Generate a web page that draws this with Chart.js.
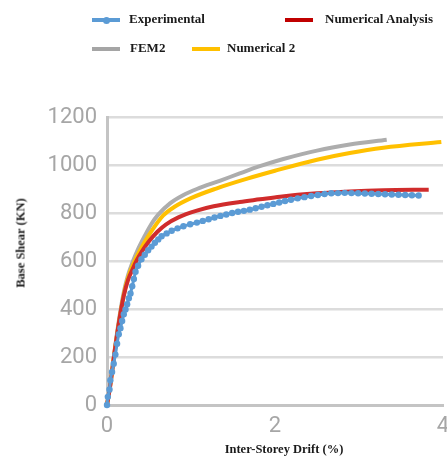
<!DOCTYPE html>
<html>
<head>
<meta charset="utf-8">
<script src="https://cdn.jsdelivr.net/npm/chart.js@4/dist/chart.umd.min.js"></script>
<style>
  html, body { margin: 0; padding: 0; background: #fff; overflow: hidden; }
  body { width: 447px; height: 461px; position: relative; }
  #wrap { position: absolute; left: 0; top: 0; width: 462px; height: 461px; }
  .lg { position: absolute; font-family: "Liberation Serif", "Times New Roman", serif; font-weight: bold; font-size: 13px; color: #1a1a1a; white-space: nowrap; }
  .sw { position: absolute; width: 28px; height: 4px; }
  .dot { position: absolute; width: 7px; height: 7px; border-radius: 50%; background: #5B9BD5; left: 10.5px; top: -1.5px; }
  .title { position: absolute; font-family: "Liberation Serif", "Times New Roman", serif; font-weight: bold; font-size: 12.5px; color: #1a1a1a; white-space: nowrap; }
</style>
</head>
<body>
<div id="wrap"><canvas id="chart"></canvas></div>

<div class="sw" style="left:92px;top:18px;background:#5B9BD5"><div class="dot"></div></div>
<div class="lg" style="left:129px;top:11px">Experimental</div>
<div class="sw" style="left:285px;top:18px;background:#C00000"></div>
<div class="lg" style="left:325px;top:11px">Numerical Analysis</div>
<div class="sw" style="left:92px;top:47px;background:#A5A5A5"></div>
<div class="lg" style="left:130px;top:40px">FEM2</div>
<div class="sw" style="left:192px;top:47px;background:#FFC000"></div>
<div class="lg" style="left:227px;top:40px">Numerical 2</div>

<div class="title" style="left:21px;top:243px;transform:translate(-50%,-50%) rotate(-90deg)">Base Shear (KN)</div>
<div class="title" style="left:284px;top:449px;transform:translate(-50%,-50%)">Inter-Storey Drift (%)</div>

<script>
// Experimental
const expDrift = [0, 0.01, 0.03, 0.04, 0.06, 0.08, 0.10, 0.12, 0.14, 0.16, 0.18, 0.20, 0.22, 0.24, 0.26, 0.28, 0.30, 0.32, 0.34, 0.37,
  0.41, 0.45, 0.49, 0.53, 0.57, 0.61, 0.65, 0.71, 0.77, 0.84, 0.91, 0.99, 1.07, 1.14, 1.21, 1.28, 1.35, 1.42, 1.49, 1.56,
  1.63, 1.70, 1.77, 1.84, 1.91, 1.98, 2.05, 2.12, 2.19, 2.27, 2.35, 2.43, 2.51, 2.59, 2.67, 2.75, 2.83, 2.91, 2.99, 3.07,
  3.15, 3.23, 3.31, 3.39, 3.47, 3.55, 3.63, 3.71];
const expShear = [0, 34, 65, 103, 138, 172, 210, 255, 295, 320, 350, 378, 398, 420, 445, 465, 495, 525, 555, 580,
  607, 626, 645, 660, 676, 690, 703, 715, 726, 736, 745, 753, 760, 767, 774, 781, 788, 794, 800, 805,
  809, 814, 820, 826, 832, 838, 844, 850, 855, 861, 866, 871, 875, 879, 882, 883, 884, 883, 882, 881,
  880, 879, 878, 877, 876, 875, 874, 873];

// Numerical Analysis
const numDrift = [0, 0.04, 0.09, 0.145, 0.2, 0.25, 0.31, 0.35, 0.42, 0.5, 0.6, 0.7, 0.85, 1.07, 1.27, 1.58, 1.82, 2.06, 2.5, 2.89, 3.29, 3.83];
const numShear = [0, 85, 220, 350, 455, 520, 570, 600, 642, 682, 722, 752, 782, 810, 828, 846, 857, 868, 882, 890, 895, 897];

// FEM2
const femDrift = [0, 0.04, 0.09, 0.145, 0.2, 0.25, 0.31, 0.37, 0.45, 0.53, 0.61, 0.75, 0.9, 1.07, 1.35, 1.58, 1.82, 2.1, 2.5, 2.89, 3.33];
const femShear = [0, 90, 225, 360, 470, 540, 600, 650, 705, 755, 793, 840, 873, 900, 935, 965, 995, 1025, 1060, 1085, 1105];

// Numerical 2
const num2Drift = [0, 0.036, 0.087, 0.143, 0.2, 0.25, 0.33, 0.45, 0.55, 0.67, 0.8, 1.0, 1.3, 1.66, 2.0, 2.5, 2.89, 3.29, 3.98];
const num2Shear = [0, 76, 212, 345, 460, 530, 600, 680, 735, 790, 825, 862, 902, 942, 976, 1022, 1050, 1072, 1096];

const xTicks = [0, 2, 4];
const yTicks = [0, 200, 400, 600, 800, 1000, 1200];

const pts = (xs, ys) => xs.map((x, i) => ({ x: x, y: ys[i] }));

new Chart(document.getElementById('chart'), {
  type: 'line',
  data: {
    datasets: [
      {
        label: 'Experimental',
        data: pts(expDrift, expShear),
        borderColor: '#5B9BD5',
        backgroundColor: '#5B9BD5',
        borderWidth: 3,
        pointRadius: 3.2,
        pointBorderWidth: 0,
        pointBackgroundColor: '#5B9BD5',
        cubicInterpolationMode: 'monotone',
        clip: 8,
        order: 0
      },
      {
        label: 'Numerical Analysis',
        data: pts(numDrift, numShear),
        borderColor: '#D02C2C',
        borderWidth: 4,
        pointRadius: 0,
        cubicInterpolationMode: 'monotone',
        clip: 8,
        order: 1
      },
      {
        label: 'FEM2',
        data: pts(femDrift, femShear),
        borderColor: '#ADADAD',
        borderWidth: 4,
        pointRadius: 0,
        cubicInterpolationMode: 'monotone',
        clip: 8,
        order: 3
      },
      {
        label: 'Numerical 2',
        data: pts(num2Drift, num2Shear),
        borderColor: '#FFC000',
        borderWidth: 4,
        pointRadius: 0,
        cubicInterpolationMode: 'monotone',
        clip: 8,
        order: 2
      }
    ]
  },
  options: {
    responsive: true,
    maintainAspectRatio: false,
    animation: false,
    layout: { padding: { top: 117, right: 19, left: 0, bottom: 0 } },
    plugins: { legend: { display: false }, tooltip: { enabled: false } },
    scales: {
      x: {
        type: 'linear',
        min: 0,
        max: 4,
        afterBuildTicks: s => { s.ticks = xTicks.map(v => ({ value: v })); },
        afterFit: s => { s.height = 56; },
        grid: { display: false, drawTicks: false },
        border: { display: true, color: '#C4C4C4', width: 3 },
        ticks: { padding: 8, color: '#A6A6A6', font: { family: 'Roboto', size: 22 }, callback: v => String(v) }
      },
      y: {
        type: 'linear',
        min: 0,
        max: 1200,
        afterBuildTicks: s => { s.ticks = yTicks.map(v => ({ value: v })); },
        afterFit: s => { s.width = 107; },
        grid: { color: '#DCDCDC', lineWidth: 2.5, drawTicks: false },
        border: { display: true, color: '#C4C4C4', width: 3 },
        ticks: { padding: 10, color: '#A6A6A6', font: { family: 'Roboto', size: 22 }, callback: v => String(v) }
      }
    }
  }
});
</script>
</body>
</html>
